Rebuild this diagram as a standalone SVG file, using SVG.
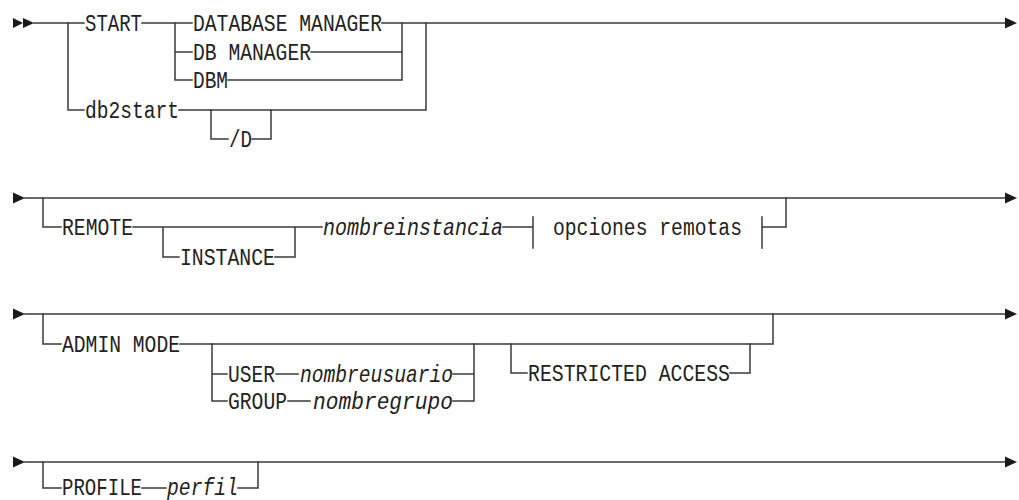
<svg xmlns="http://www.w3.org/2000/svg" width="1019" height="500" viewBox="0 0 1019 500">
<style>
.ln{fill:none;stroke:#3a3a3a;stroke-width:1.5;stroke-linecap:square}
.ah{fill:#1a1a1a}
.t{font-family:"Liberation Mono","DejaVu Sans Mono",monospace;font-size:23px;fill:#222}
.i{font-style:italic}
</style>
<rect width="1019" height="500" fill="#fff"/>
<g id="connectors">
<!-- row 1 -->
<polygon class="ah" points="13,18 23,23 13,28"/>
<polygon class="ah" points="23,18 34,23 23,28"/>
<path class="ln" d="M34,23H84 M142,23H192 M382,23H1005"/>
<polygon class="ah" points="1005,17.5 1017,23 1005,28.5"/>
<path class="ln" d="M68,23V110H84 M179,110H426V23"/>
<path class="ln" d="M175,23V80H192 M175,52H192 M311,52H402 M228,80H402V23"/>
<path class="ln" d="M211,110V139H228 M252,139H271V110"/>
<!-- row 2 -->
<polygon class="ah" points="13,192.5 25,198 13,203.5"/>
<path class="ln" d="M25,198H1005"/>
<polygon class="ah" points="1005,192.5 1017,198 1005,203.5"/>
<path class="ln" d="M43,198V227H61 M133,227H322 M163,227V257H179 M275,257H295V227"/>
<path class="ln" d="M503,227H533 M533,217V248 M762,217V248 M762,227H786V198"/>
<!-- row 3 -->
<polygon class="ah" points="13,308.5 25,314 13,319.5"/>
<path class="ln" d="M25,314H1005"/>
<polygon class="ah" points="1005,308.5 1017,314 1005,319.5"/>
<path class="ln" d="M43,314V344H61 M180,344H773V314"/>
<path class="ln" d="M212,344V401H227 M212,374H227 M276,374H298 M453,374H474V344 M288,401H310 M453,401H474V374"/>
<path class="ln" d="M511,344V373H527 M730,373H750V344"/>
<!-- row 4 -->
<polygon class="ah" points="13,456.5 25,462 13,467.5"/>
<path class="ln" d="M25,462H1005"/>
<polygon class="ah" points="1005,456.5 1017,462 1005,467.5"/>
<path class="ln" d="M43,462V488H61 M142,488H166 M238,488H258V462"/>
</g>
<g id="n-start"><text class="t" x="85" y="30.5" textLength="57" lengthAdjust="spacingAndGlyphs">START</text></g>
<g id="n-database-manager"><text class="t" x="193" y="30.5" textLength="189" lengthAdjust="spacingAndGlyphs">DATABASE MANAGER</text></g>
<g id="n-db-manager"><text class="t" x="193" y="59.5" textLength="118" lengthAdjust="spacingAndGlyphs">DB MANAGER</text></g>
<g id="n-dbm"><text class="t" x="193" y="87.5" textLength="35" lengthAdjust="spacingAndGlyphs">DBM</text></g>
<g id="n-db2start"><text class="t" x="85" y="117.5" textLength="94" lengthAdjust="spacingAndGlyphs">db2start</text></g>
<g id="n-d"><text class="t" x="229" y="146.5" textLength="23" lengthAdjust="spacingAndGlyphs">/D</text></g>
<g id="n-remote"><text class="t" x="62" y="234.5" textLength="71" lengthAdjust="spacingAndGlyphs">REMOTE</text></g>
<g id="n-instance"><text class="t" x="180" y="264.5" textLength="95" lengthAdjust="spacingAndGlyphs">INSTANCE</text></g>
<g id="n-nombreinstancia"><text class="t i" x="323" y="234.5" textLength="180" lengthAdjust="spacingAndGlyphs">nombreinstancia</text></g>
<g id="n-opciones-remotas"><text class="t" x="553" y="234.5" textLength="189" lengthAdjust="spacingAndGlyphs">opciones remotas</text></g>
<g id="n-admin-mode"><text class="t" x="62" y="351.5" textLength="118" lengthAdjust="spacingAndGlyphs">ADMIN MODE</text></g>
<g id="n-user"><text class="t" x="228" y="381.5" textLength="47" lengthAdjust="spacingAndGlyphs">USER</text></g>
<g id="n-nombreusuario"><text class="t i" x="300" y="381.5" textLength="153" lengthAdjust="spacingAndGlyphs">nombreusuario</text></g>
<g id="n-group"><text class="t" x="228" y="408.5" textLength="59" lengthAdjust="spacingAndGlyphs">GROUP</text></g>
<g id="n-nombregrupo"><text class="t i" x="313" y="408.5" textLength="140" lengthAdjust="spacingAndGlyphs">nombregrupo</text></g>
<g id="n-restricted-access"><text class="t" x="528" y="380.5" textLength="202" lengthAdjust="spacingAndGlyphs">RESTRICTED ACCESS</text></g>
<g id="n-profile"><text class="t" x="62" y="494.5" textLength="80" lengthAdjust="spacingAndGlyphs">PROFILE</text></g>
<g id="n-perfil"><text class="t i" x="167" y="494.5" textLength="71" lengthAdjust="spacingAndGlyphs">perfil</text></g>
</svg>
